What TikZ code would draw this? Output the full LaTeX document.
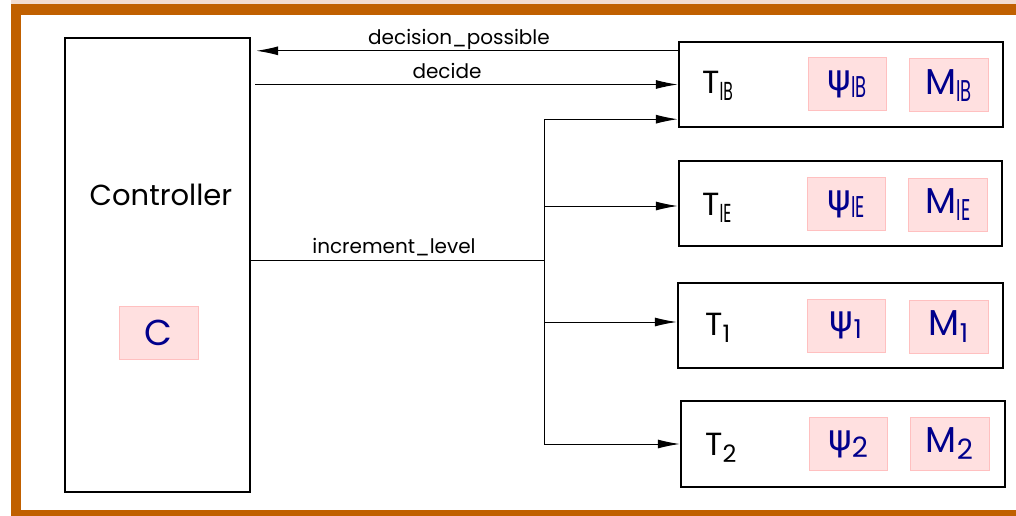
\documentclass[tikz,border=0pt]{standalone}
\usepackage{fontspec}
\usepackage{graphicx}
\setmainfont{Poppins}
\newfontfamily\grk{DejaVu Sans}
\usetikzlibrary{arrows.meta,calc}

\definecolor{frameorange}{RGB}{192,96,0}
\definecolor{framelight}{RGB}{242,220,208}
\definecolor{varfill}{RGB}{255,224,224}
\definecolor{varline}{RGB}{255,192,192}
\definecolor{vartext}{RGB}{0,0,140}

% narrow subscript letters and plain subscript digits (#1 = size)
\newcommand{\nsub}[2]{\raisebox{-7pt}{\fontsize{#1}{#1}\selectfont\scalebox{0.6}[1]{#2}}}
\newcommand{\dsub}[2]{\raisebox{-7pt}{\fontsize{#1}{#1}\selectfont #2}}

\tikzset{
  x=1pt, y=-1pt,
  block/.style={draw, line width=2.4pt, inner sep=0pt},
  varbox/.style={draw=varline, fill=varfill, line width=1pt, inner sep=0pt,
    minimum width=78pt, minimum height=53pt, text=vartext,
    font=\fontsize{36}{36}\selectfont},
  tlabel/.style={anchor=base west, inner sep=0pt, font=\fontsize{32}{32}\selectfont},
  siglabel/.style={anchor=base, inner sep=0pt, font=\fontsize{20}{20}\selectfont},
  arr/.style={line width=1pt, -{Latex[length=22pt,width=9pt]}},
  wire/.style={line width=1pt}
}

\begin{document}
\begin{tikzpicture}
\useasboundingbox (0,0) rectangle (1016,516);

% frame
\fill[framelight] (11,0) rectangle (1016,4);
\fill[frameorange] (11,4) rectangle (1016,15);
\fill[frameorange] (11,4) rectangle (21,516);
\fill[frameorange] (11,510) rectangle (1016,516);

% controller
\node[block, minimum width=185pt, minimum height=454pt] (ctrl) at (157.5,265) {};
\node[inner sep=0pt, font=\fontsize{29}{29}\selectfont] (ctrlname) at (161,195) {Controller};
\node[varbox, minimum width=79pt] (cvar) at (158.5,332.5) {C};

% target blocks
\node[block, minimum width=324pt, minimum height=85pt] (tib) at (841,84.5) {};
\node[block, minimum width=323pt, minimum height=85pt] (tie) at (840.5,203.5) {};
\node[block, minimum width=325pt, minimum height=85pt] (t1) at (840.5,325.5) {};
\node[block, minimum width=324pt, minimum height=86pt] (t2) at (843,444) {};

\node[tlabel] (tibname) at (702,94) {T\nsub{26}{IB}};
\node[tlabel] (tiename) at (702,215) {T\nsub{26}{IE}};
\node[tlabel] (t1name) at (705,335) {T\dsub{24}{1}};
\node[tlabel] (t2name) at (705,455) {T\dsub{24}{2}};

\node[varbox] (tibpsi) at (847,84.5) {{\grk ψ}\nsub{30}{IB}};
\node[varbox, minimum width=79pt] (tibm) at (948.5,85.5) {M\nsub{30}{IB}};
\node[varbox] (tiepsi) at (846,204) {{\grk ψ}\nsub{30}{IE}};
\node[varbox, minimum width=79pt] (tiem) at (948,205) {M\nsub{30}{IE}};
\node[varbox] (t1psi) at (846,325.5) {{\grk ψ}\dsub{26}{1}};
\node[varbox, minimum width=79pt] (t1m) at (948.5,326.5) {M\dsub{26}{1}};
\node[varbox] (t2psi) at (848,444) {{\grk ψ}\dsub{28}{2}};
\node[varbox, minimum width=79pt] (t2m) at (949.5,444) {M\dsub{28}{2}};

% signals
\draw[arr] ($(tib.north west)+(0,10)$) -- ($(ctrl.north east)+(5,14)$);
\node[siglabel] (lpossible) at (459,45) {decision\_possible};

\draw[arr] ($(ctrl.east |- tib.west)+(4,0)$) -- (tib.west);
\node[siglabel] (ldecide) at (447,79) {decide};

\coordinate (split) at ($(ctrl.east)+(293,-5)$);
\draw[wire] (ctrl.east |- split) -- (split);
\node[siglabel] (llevel) at (394,253) {increment\_level};

\coordinate (bustop) at ($(split |- tib.south)+(0,-9)$);
\coordinate (busbot) at ($(split |- t2.west)$);
\draw[wire] (bustop) -- (busbot);
\draw[arr] (bustop) -- (bustop -| tib.west);
\draw[arr] ($(split |- tie.west)+(0,2.5)$) -- ($(tie.west)+(0,2.5)$);
\draw[arr] ($(split |- t1.west)+(0,-3.5)$) -- ($(t1.west)+(0,-3.5)$);
\draw[arr] (busbot) -- (t2.west);
\end{tikzpicture}
\end{document}
